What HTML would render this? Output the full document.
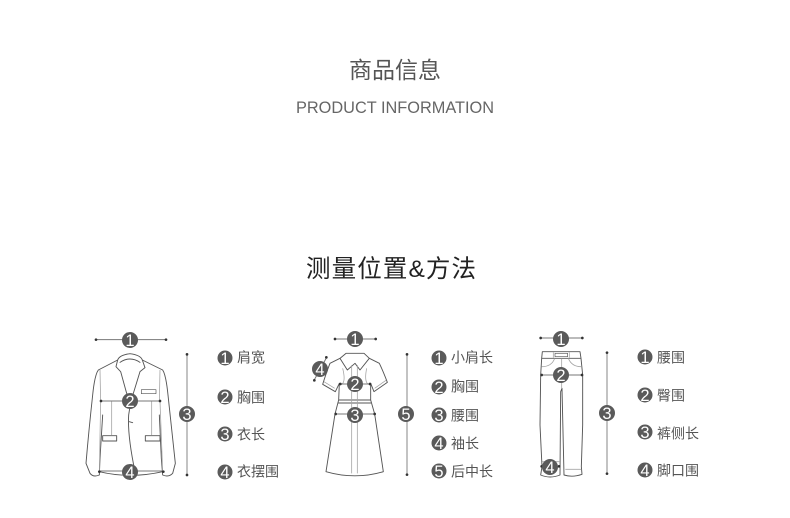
<!DOCTYPE html>
<html><head><meta charset="utf-8"><style>
html,body{margin:0;padding:0;background:#fff}
svg{display:block}
text{font-family:"Liberation Sans","Noto Sans CJK SC",sans-serif}
.l{font-size:14px;fill:#555}
.n{font-size:16.500px;fill:#fff;text-anchor:middle;font-family:"Liberation Sans",sans-serif}
.d{fill:#5a5a5a}
.o{fill:none;stroke:#555;stroke-width:2.800;stroke-linejoin:round;stroke-linecap:round}
.f{fill:none;stroke:#a5a5a5;stroke-width:2.400}
.m{stroke:#777;stroke-width:3;fill:none}
.b{stroke:#a5a5a5;stroke-width:4;fill:none}
.p{fill:#333}
.s{filter:blur(.35px)}
</style></head><body>
<svg width="790" height="518" viewBox="0 0 790 518" xmlns="http://www.w3.org/2000/svg">
<rect width="790" height="518" fill="#fff"/>
<text x="395" y="78" text-anchor="middle" font-size="23" fill="#555">商品信息</text>
<text x="296" y="113" font-size="17" fill="#666" textLength="198" lengthAdjust="spacingAndGlyphs">PRODUCT INFORMATION</text>
<text x="306" y="277" font-size="24.500" fill="#222" textLength="170">测量位置&amp;方法</text>

<g class="s">
<!-- Jacket -->
<g transform="translate(80 325) scale(.33333)">
<path class="o" d="M113 105L55 135Q44 150 38 210Q26 320 18 415L30 445Q40 458 58 450L60 400L68 270M58 440Q150 462 248 440M187 105L248 135Q258 150 264 210Q276 320 286 415L278 445Q266 458 248 450L244 400L238 270"/>
<path class="o" d="M113 105Q118 90 150 86Q182 90 187 105L195 128L180 140L160 205Q150 240 146 270Q142 330 165 440M113 105L108 125L122 140L140 205L150 225M120 112Q150 92 180 112"/>
<path class="f" d="M60 135L62 230M240 135L238 230M95 228V330M215 228V330M62 230L58 440M240 230L248 440"/>
<rect class="o" x="184" y="194" width="44" height="12" style="stroke-width:2"/>
<rect class="o" x="68" y="332" width="42" height="16"/>
<rect class="o" x="196" y="332" width="44" height="16"/>
<path class="o" d="M148 290l10 3"/>
<path class="m" d="M48 44H258M62 228H240M58 438H250"/>
<path class="b" d="M321 88V450"/>
<circle class="p" cx="48" cy="44" r="4"/><circle class="p" cx="258" cy="44" r="4"/>
<circle class="p" cx="63" cy="228" r="4"/><circle class="p" cx="240" cy="228" r="4"/>
<circle class="p" cx="58" cy="440" r="4"/><circle class="p" cx="250" cy="440" r="4"/>
<circle class="p" cx="321" cy="88" r="4"/><circle class="p" cx="321" cy="450" r="4"/>
</g>

<!-- Dress -->
<g transform="translate(300 325) scale(.33333)">
<path class="o" d="M138 85H192L208 100L180 135L165 115L142 135L120 100ZM120 100L90 115Q80 140 68 178L106 200L118 175M208 100L238 115Q250 140 262 172L222 200L212 175M118 175L116 225L105 267L78 440Q165 465 250 440L224 267L212 225L212 175M116 225H212M116 234H212"/>
<path class="f" d="M155 120V445M172 120V445M128 130Q138 170 125 178M200 130Q192 170 205 178M72 170L104 190M258 166L224 190"/>
<path class="m" d="M105 42H228M120 177H212M106 267H224M42 166L80 97"/>
<path class="b" d="M321 88V450"/>
<circle class="p" cx="105" cy="42" r="4"/><circle class="p" cx="227" cy="42" r="4"/>
<circle class="p" cx="121" cy="177" r="4"/><circle class="p" cx="210" cy="177" r="4"/>
<circle class="p" cx="107" cy="267" r="4"/><circle class="p" cx="224" cy="267" r="4"/>
<circle class="p" cx="43" cy="166" r="4"/><circle class="p" cx="79" cy="97" r="4"/>
<circle class="p" cx="321" cy="88" r="4"/><circle class="p" cx="321" cy="449" r="4"/>
</g>

<!-- Trousers -->
<g transform="translate(520 325) scale(.33333)">
<path class="o" d="M67 80H180L183 100H65ZM65 100L62 150L60 300L66 425L62 450Q90 462 120 450L122 200L126 190L132 450Q158 458 186 448L184 425L188 300L188 150L183 100"/>
<path class="f" d="M65 125Q95 125 104 100M183 125Q155 125 145 100M100 82V98M148 82V98M125 100V190M68 425H118M136 433H184M66 410H118"/>
<rect class="o" x="105" y="85" width="38" height="10" style="stroke-width:2"/>
<path class="m" d="M62 39H188M64 150H186M64 424H118"/>
<path class="b" d="M261 83V446"/>
<circle class="p" cx="62" cy="39" r="4"/><circle class="p" cx="187" cy="39" r="4"/>
<circle class="p" cx="65" cy="150" r="4"/><circle class="p" cx="186" cy="150" r="4"/>
<circle class="p" cx="65" cy="424" r="4"/><circle class="p" cx="117" cy="424" r="4"/>
<circle class="p" cx="261" cy="83" r="4"/><circle class="p" cx="261" cy="446" r="4"/>
</g>

<g class="d"><circle cx="130" cy="340" r="8"/><circle cx="130" cy="401" r="8"/><circle cx="187" cy="414" r="8"/><circle cx="130" cy="472" r="8"/><circle cx="225" cy="358" r="7.500"/><circle cx="225" cy="397" r="7.500"/><circle cx="225" cy="434" r="7.500"/><circle cx="225" cy="472" r="7.500"/></g>
<g><text class="n" x="130" y="346">1</text><text class="n" x="130" y="407">2</text><text class="n" x="187" y="420">3</text><text class="n" x="130" y="478">4</text><text class="n" x="225" y="364">1</text><text class="n" x="225" y="403">2</text><text class="n" x="225" y="440">3</text><text class="n" x="225" y="478">4</text></g>
<text class="l" x="237" y="362.500">肩宽</text><text class="l" x="237" y="402.500">胸围</text><text class="l" x="237" y="439.500">衣长</text><text class="l" x="237" y="476.500">衣摆围</text>

<g class="d"><circle cx="355" cy="339" r="8"/><circle cx="355" cy="384" r="8"/><circle cx="355" cy="415" r="8"/><circle cx="320" cy="369" r="8"/><circle cx="406" cy="414" r="8"/><circle cx="439" cy="358" r="7.500"/><circle cx="439" cy="387" r="7.500"/><circle cx="439" cy="415" r="7.500"/><circle cx="439" cy="443" r="7.500"/><circle cx="439" cy="471" r="7.500"/></g>
<g><text class="n" x="355" y="345">1</text><text class="n" x="355" y="390">2</text><text class="n" x="355" y="421">3</text><text class="n" x="320" y="375">4</text><text class="n" x="406" y="420">5</text><text class="n" x="439" y="364">1</text><text class="n" x="439" y="393">2</text><text class="n" x="439" y="421">3</text><text class="n" x="439" y="449">4</text><text class="n" x="439" y="477">5</text></g>
<text class="l" x="451" y="362.500">小肩长</text><text class="l" x="451" y="391.500">胸围</text><text class="l" x="451" y="420.500">腰围</text><text class="l" x="451" y="448.500">袖长</text><text class="l" x="451" y="476.500">后中长</text>

<g class="d"><circle cx="561" cy="339" r="8"/><circle cx="561" cy="375" r="8"/><circle cx="607" cy="413" r="8"/><circle cx="550" cy="467" r="8"/><circle cx="645" cy="357" r="7.500"/><circle cx="645" cy="395" r="7.500"/><circle cx="645" cy="432" r="7.500"/><circle cx="645" cy="470" r="7.500"/></g>
<g><text class="n" x="561" y="345">1</text><text class="n" x="561" y="381">2</text><text class="n" x="607" y="419">3</text><text class="n" x="550" y="473">4</text><text class="n" x="645" y="363">1</text><text class="n" x="645" y="401">2</text><text class="n" x="645" y="438">3</text><text class="n" x="645" y="476">4</text></g>
<text class="l" x="657" y="362.500">腰围</text><text class="l" x="657" y="400.500">臀围</text><text class="l" x="657" y="438.500">裤侧长</text><text class="l" x="657" y="475.500">脚口围</text>
</g>
</svg>
</body></html>
